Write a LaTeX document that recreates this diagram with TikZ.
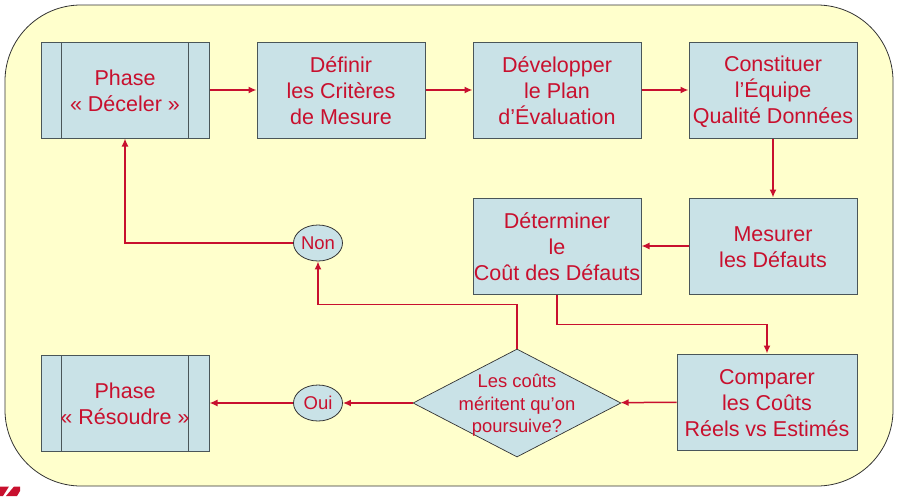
\documentclass[tikz,border=0pt]{standalone}
\usepackage{fontspec}
\setmainfont{Liberation Sans}
\usetikzlibrary{arrows.meta,shapes.geometric}
\definecolor{bgyellow}{HTML}{FFFFCC}
\definecolor{boxblue}{HTML}{C9E2E7}
\definecolor{redtext}{HTML}{C8102E}
\definecolor{boxline}{HTML}{4A5659}
\newcommand{\boxstrut}{\rule[-3pt]{0pt}{23pt}}

\tikzset{
	stepbox/.style={draw=boxline,fill=boxblue,text=redtext,line width=1pt,align=center,minimum width=168pt,minimum height=96pt,inner sep=0pt,font=\fontsize{21.5}{26}\selectfont},
	phasebox/.style={stepbox,path picture={
		\draw[-,boxline,line width=1pt]([xshift=20.5pt]path picture bounding box.north west)--([xshift=20.5pt]path picture bounding box.south west);
		\draw[-,boxline,line width=1pt]([xshift=-20.5pt]path picture bounding box.north east)--([xshift=-20.5pt]path picture bounding box.south east);}},
	answer/.style={draw=black!80,fill=boxblue,text=redtext,ellipse,line width=0.8pt,minimum width=49pt,minimum height=36pt,inner sep=0pt,font=\fontsize{18.5}{20}\selectfont},
	decision/.style={draw=black!80,fill=boxblue,diamond,line width=0.7pt,minimum width=208pt,minimum height=108pt,inner sep=0pt},
	decisiontext/.style={text=redtext,align=center,inner sep=0pt,font=\fontsize{18.4}{22.5}\selectfont}
}

\begin{document}
\begin{tikzpicture}[->,>={Latex[length=8pt,width=7pt]},x=1pt,y=1pt,node distance=216pt,line width=1.5pt,color=redtext]

\useasboundingbox(0,0)rectangle(897,-496);

\node[draw=black!80,fill=bgyellow,line width=0.8pt,rounded corners=76pt,minimum width=888pt,minimum height=481pt,inner sep=0pt](frame)at(449,-245.5){};
\fill[-,redtext](0,-496)--(0,-486.5)--(9,-486.5)--(3,-496)--cycle (6,-496)--(14,-486.5)--(20,-486.5)--(20,-491)--(17,-496)--cycle;

\node[phasebox](deceler)at(125,-90){\boxstrut Phase\\\boxstrut« Déceler »};
\node[stepbox](criteres)[right of=deceler]{\boxstrut Définir\\les Critères\\\boxstrut de Mesure};
\node[stepbox](plan)[right of=criteres]{\boxstrut Développer\\le Plan\\\boxstrut d’Évaluation};
\node[stepbox](equipe)[right of=plan]{\boxstrut Constituer\\l’Équipe\\\boxstrut Qualité Données};
\node[stepbox](mesurer)[below of=equipe,node distance=156pt]{\boxstrut Mesurer\\\boxstrut les Défauts};
\node[stepbox](cout)[left of=mesurer]{\boxstrut Déterminer\\le\\\boxstrut Coût des Défauts};
\node[stepbox,minimum width=180pt](comparer)at(767,-402){\boxstrut Comparer\\les Coûts\\\boxstrut Réels vs Estimés};
\node[decision,label={[decisiontext,yshift=-2.5pt]center:Les coûts\\méritent qu’on\\poursuive?}](couts)[left of=comparer,node distance=250pt,yshift=-1pt]{};
\node[answer](oui)[left of=couts,node distance=199pt]{Oui};
\node[phasebox](resoudre)at(125,-403){\boxstrut Phase\\\boxstrut« Résoudre »};
\node[answer](non)at(318,-243){Non};

\path(deceler)edge(criteres)
	(criteres)edge(plan)
	(plan)edge(equipe)
	(equipe)edge(mesurer)
	(mesurer)edge(cout)
	(comparer)edge(couts)
	(couts)edge(oui)
	(oui)edge(resoudre);
\draw(cout.south)--++(0,-30)-|(comparer);
\draw(couts.north)--++(0,44)-|(non);
\draw(non)-|(deceler);

\end{tikzpicture}
\end{document}
